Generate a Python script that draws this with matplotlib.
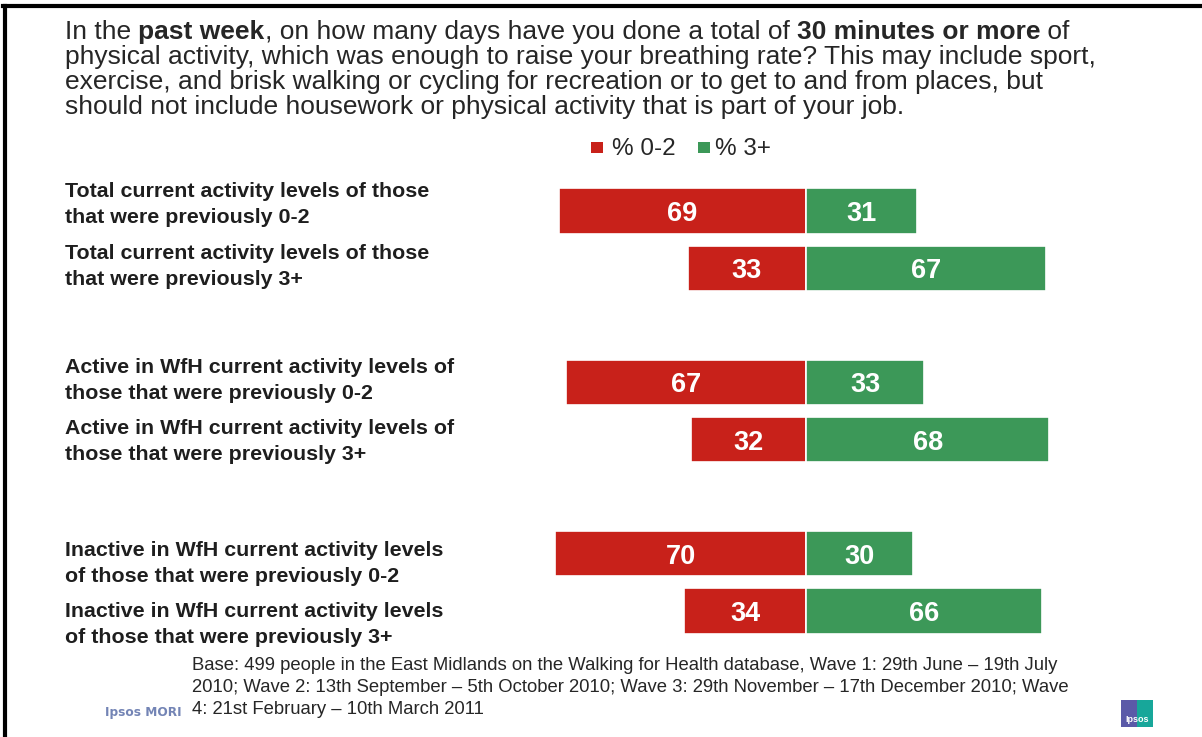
import os
import matplotlib
matplotlib.use("Agg")
import matplotlib.pyplot as plt
from matplotlib import transforms, font_manager
from matplotlib.font_manager import FontProperties
from matplotlib.patches import Rectangle
import numpy as np

# Data
categories = [
    "Total current activity levels of those\nthat were previously 0-2",
    "Total current activity levels of those\nthat were previously 3+",
    "Active in WfH current activity levels of\nthose that were previously 0-2",
    "Active in WfH current activity levels of\nthose that were previously 3+",
    "Inactive in WfH current activity levels\nof those that were previously 0-2",
    "Inactive in WfH current activity levels\nof those that were previously 3+",
]
pct_0_2 = [69, 33, 67, 32, 70, 34]
pct_3_plus = [31, 67, 33, 68, 30, 66]
series_names = ["% 0-2", "% 3+"]

RED = "#C8211A"
GREEN = "#3C9858"
TEXT = "#262626"

# Locate the font files
font_files = {os.path.basename(p): p for p in font_manager.findSystemFonts()}
FILES = {
    "reg": font_files.get("LiberationSans-Regular.ttf"),
    "bold": font_files.get("LiberationSans-Bold.ttf"),
    "narrow_bold": font_files.get("LiberationSansNarrow-Bold.ttf")
    or font_files.get("DejaVuSansCondensed-Bold.ttf")
    or font_files.get("LiberationSans-Bold.ttf"),
}


def font(size, kind="reg"):
    path = FILES.get(kind)
    if path:
        return FontProperties(fname=path, size=size)
    return FontProperties(family="DejaVu Sans", size=size,
                          weight="normal" if kind == "reg" else "bold")


W, H = 1202, 737
fig = plt.figure(figsize=(W / 100, H / 100), dpi=100)
fig.patch.set_facecolor("white")


def fx(px):
    return px / W


def fy(py):
    return 1 - py / H


# rows grouped in pairs with a blank slot between groups
ypos = np.array([0, 1, 3, 4, 6, 7])

ax = fig.add_axes([fx(519.6), fy(639.6), fx(1092.4) - fx(519.6), (639.6 - 182.4) / H])
ax.set_xlim(-80, 80)
ax.set_ylim(7.5, -0.5)
ax.axis("off")

ax.barh(ypos, [-v for v in pct_0_2], height=0.79, color=RED, edgecolor="white", linewidth=1.2)
ax.barh(ypos, pct_3_plus, height=0.79, color=GREEN, edgecolor="white", linewidth=1.2)

for y, r, g in zip(ypos, pct_0_2, pct_3_plus):
    ax.text(-r / 2, y, f"{r}", ha="center", va="center_baseline", color="white",
            fontproperties=font(19.5, "bold"))
    ax.text(g / 2, y, f"{g}", ha="center", va="center_baseline", color="white",
            fontproperties=font(19.5, "bold"))

# Row labels: one text per line, baselines tied to the bar rows
first_baseline_px = [-14, -9, -9, -6, 2, 6]
line_gap_px = 26
for y, lab, dy in zip(ypos, categories, first_baseline_px):
    for i, line in enumerate(lab.split("\n")):
        tr = transforms.blended_transform_factory(fig.transFigure, ax.transData) + \
            transforms.ScaledTranslation(0, -(dy + i * line_gap_px) / 100, fig.dpi_scale_trans)
        fig.text(fx(65), y, line, transform=tr, ha="left", va="baseline",
                 fontproperties=font(15.4, "bold"), color="#1e1e1e")

# Question text with bold fragments
renderer = fig.canvas.get_renderer()
title_lines = [
    [("In the ", "reg"), ("past week", "bold"),
     (", on how many days have you done a total of ", "reg"),
     ("30 minutes or more", "bold"), (" of", "reg")],
    [("physical activity, which was enough to raise your breathing rate? This may include sport,", "reg")],
    [("exercise, and brisk walking or cycling for recreation or to get to and from places, but", "reg")],
    [("should not include housework or physical activity that is part of your job.", "reg")],
]
title_baselines = [39, 64, 89, 114]
for runs, base in zip(title_lines, title_baselines):
    x = 65
    for txt, kind in runs:
        t = fig.text(fx(x), fy(base), txt, ha="left", va="baseline",
                     fontproperties=font(19, kind), color=TEXT)
        bb = t.get_window_extent(renderer)
        x += bb.width

# Legend
fig.patches.append(Rectangle((fx(591), fy(153)), fx(12), 11 / H, transform=fig.transFigure,
                             facecolor=RED, edgecolor="none"))
fig.text(fx(612), fy(155), series_names[0], ha="left", va="baseline",
         fontproperties=font(17.5), color=TEXT)
fig.patches.append(Rectangle((fx(698), fy(153)), fx(12), 11 / H, transform=fig.transFigure,
                             facecolor=GREEN, edgecolor="none"))
fig.text(fx(715), fy(155), series_names[1], ha="left", va="baseline",
         fontproperties=font(17.5), color=TEXT)

# Footnote
foot_lines = [
    "Base: 499 people in the East Midlands on the Walking for Health database, Wave 1: 29th June \u2013 19th July",
    "2010; Wave 2: 13th September \u2013 5th October 2010; Wave 3: 29th November \u2013 17th December 2010; Wave",
    "4: 21st February \u2013 10th March 2011",
]
for line, base in zip(foot_lines, [670, 692, 714]):
    fig.text(fx(192), fy(base), line, ha="left", va="baseline",
             fontproperties=font(13.3), color=TEXT)

# Brand marks
logo = fig.text(fx(105), fy(716), "Ipsos MORI", ha="left", va="baseline",
                fontproperties=font(12.5, "narrow_bold"), color="#5b6fa8", alpha=0.85)
# keep the wordmark inside the gap left of the footnote
lw = logo.get_window_extent(renderer).width
if lw > 76:
    logo.set_fontproperties(font(12.5 * 76 / lw, "narrow_bold"))

fig.patches.append(Rectangle((fx(1121), fy(727)), fx(16), 27 / H, transform=fig.transFigure,
                             facecolor="#5b5aa8", edgecolor="none"))
fig.patches.append(Rectangle((fx(1137), fy(727)), fx(16), 27 / H, transform=fig.transFigure,
                             facecolor="#17a79a", edgecolor="none"))
fig.text(fx(1137), fy(719), "Ipsos", ha="center", va="center",
         fontproperties=font(6.5, "bold"), color="white")

# Slide frame (top and left edges)
fig.add_artist(plt.Line2D([fx(3), fx(1202)], [fy(6), fy(6)], transform=fig.transFigure,
                          color="black", linewidth=3))
fig.add_artist(plt.Line2D([fx(4.5), fx(4.5)], [fy(6), fy(737)], transform=fig.transFigure,
                          color="black", linewidth=3))

fig.savefig("out.png", dpi=100)
